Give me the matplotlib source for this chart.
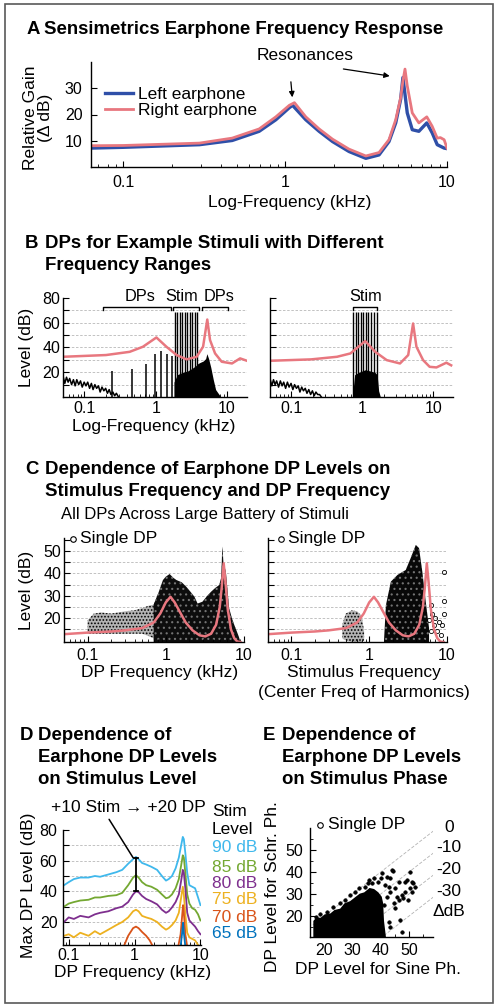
import numpy as np
import matplotlib
matplotlib.use("Agg")
import matplotlib.pyplot as plt
from matplotlib.patches import Rectangle
from matplotlib.lines import Line2D

plt.rcParams['font.family'] = ['Liberation Sans', 'DejaVu Sans']
plt.rcParams['font.size'] = 11.5
plt.rcParams['xtick.direction'] = 'in'
plt.rcParams['ytick.direction'] = 'in'
plt.rcParams['hatch.linewidth'] = 0.8

PINK = '#e8777f'
BLUE = '#2f4fa8'
TSIZE = 13.4   # bold panel titles
LSIZE = 12.5   # axis labels and notes

# ---------------- data ----------------
# A: earphone frequency response (kHz, relative dB)
fA_left = [0.063, 0.1, 0.295, 0.47, 0.69, 0.875, 1.06, 1.11, 1.34, 1.62, 1.96, 2.48, 3.15, 3.8, 4.38,
           4.82, 5.17, 5.34, 5.68, 6.1, 6.7, 7.5, 8.1, 8.7, 9.6, 10.0]
gain_left = [7.2, 7.5, 8.5, 10.1, 13.6, 18.0, 22.6, 23.5, 18.0, 13.6, 9.7, 5.9, 3.3, 4.6, 9.7,
             16.8, 25.8, 34.1, 20.6, 14.2, 13.6, 16.8, 13.0, 8.5, 7.2, 7.0]
fA_right = [0.063, 0.1, 0.295, 0.47, 0.69, 0.875, 1.06, 1.14, 1.34, 1.62, 1.96, 2.48, 3.15, 3.8, 4.38,
            4.82, 5.17, 5.34, 5.5, 5.68, 6.1, 6.7, 7.5, 8.1, 8.7, 9.1, 9.6, 10.0]
gain_right = [8.1, 8.2, 9.1, 11.0, 14.5, 19.1, 23.5, 24.5, 19.1, 14.5, 10.6, 6.8, 4.2, 5.5, 10.4,
              18.0, 26.4, 32.8, 37.3, 30.9, 20.6, 16.8, 19.1, 15.5, 11.0, 11.2, 10.4, 7.2]

# B left: earphone curve, noise floor, DPs and stimulus harmonics
fB1_pink = [0.05, 0.2, 0.43, 0.66, 1.02, 1.41, 1.96, 2.7, 3.74, 4.6, 5.27, 5.76, 6.78, 8.4, 11.7, 15.2, 18.9]
lev_B1_pink = [32.5, 33.9, 36.5, 40.6, 48.1, 40.6, 33.9, 30.4, 32.5, 40.6, 62.6, 46.0, 35.2, 28.5, 27.1, 31.2, 29.3]
fB1_noise = [0.05, 0.053, 0.056, 0.059, 0.062, 0.066, 0.07, 0.074, 0.078, 0.083, 0.088, 0.093, 0.099, 0.105,
             0.111, 0.118, 0.125, 0.132, 0.14, 0.148, 0.157, 0.166, 0.176, 0.187, 0.198, 0.21, 0.222, 0.235,
             0.25, 0.265, 0.28, 0.3]
lev_B1_noise = [17, 11, 16, 12, 15, 10, 14, 9, 14, 10, 13, 8, 12, 9, 12, 7, 11, 6, 10, 7, 9, 4, 8, 5, 7, 3, 6,
                2, 4, 1, 3, 0]
fB1_dp = [0.24, 0.47, 0.72, 0.97, 1.18, 1.43, 1.68]
lev_B1_dp = [21, 23, 27, 35, 37, 35, 33]
fB1_stim = [1.85, 2.0, 2.17, 2.35, 2.55, 2.75, 3.0, 3.25, 3.5, 3.78]
lev_B1_stim = [69, 69, 69, 69, 69, 69, 69, 69, 69, 69]
fB1_dense = [1.8, 2.0, 2.4, 2.8, 3.2, 3.6, 3.9, 4.2, 4.6, 5.0, 5.2, 5.5, 5.9, 6.4, 6.9, 7.5, 8.2]
lev_B1_dense = [12, 18, 20, 21, 23, 25, 27, 28, 29, 31, 35, 31, 24, 14, 6, 3, 0]

# B right
fB2_pink = [0.052, 0.19, 0.44, 0.68, 1.1, 1.52, 2.21, 3.4, 4.44, 5.2, 5.8, 7.2, 8.9, 11.1, 15.3, 17.9]
lev_B2_pink = [29.3, 30.4, 32.5, 35.2, 45.2, 36.5, 29.8, 27.1, 33.9, 59.4, 40.6, 29.8, 24.4, 23.9, 27.7, 25.6]
fB2_noise = [0.05, 0.053, 0.056, 0.059, 0.062, 0.066, 0.07, 0.074, 0.078, 0.083, 0.088, 0.093, 0.099, 0.105,
             0.111, 0.118, 0.125, 0.132, 0.14, 0.148, 0.157, 0.166, 0.176, 0.187, 0.198, 0.21, 0.222, 0.235,
             0.25, 0.265]
lev_B2_noise = [15, 9, 14, 10, 13, 8, 13, 9, 12, 7, 12, 8, 11, 6, 10, 7, 9, 4, 8, 5, 7, 3, 6, 2, 5, 1, 4, 2, 2, 0]
fB2_stim = [0.75, 0.81, 0.88, 0.95, 1.03, 1.12, 1.22, 1.33, 1.47, 1.62]
lev_B2_stim = [69, 69, 69, 69, 69, 69, 69, 69, 69, 69]
fB2_dense = [0.74, 0.78, 0.9, 1.1, 1.3, 1.5, 1.62, 1.7, 1.8]
lev_B2_dense = [5, 18, 20, 22, 21, 20, 18, 5, 0]

# C: earphone curve and outlines of the DP clouds
fC_pink = [0.05, 0.1, 0.2, 0.3, 0.5, 0.7, 0.85, 1.0, 1.15, 1.3, 1.5, 1.8, 2.2, 2.7, 3.2, 3.8, 4.4, 4.9, 5.2,
           5.5, 5.8, 6.2, 6.8, 7.5, 8.2, 9.0]
lev_C_pink = [12.8, 13.5, 14.0, 14.5, 15.5, 18.0, 22.0, 27.0, 29.5, 27.0, 23.0, 18.0, 14.5, 12.3, 11.8, 13.0,
              17.0, 25.0, 34.0, 44.5, 36.0, 24.0, 15.0, 11.0, 9.5, 9.3]
fC1_sparse = [0.1, 0.12, 0.15, 0.2, 0.3, 0.4, 0.5, 0.6, 0.7, 0.8]
top_C1_sparse = [19, 22, 22.5, 22, 23, 23.5, 24.5, 25.5, 26, 31]
bot_C1_sparse = [13, 13, 13, 13, 13, 13, 13, 12, 11, 9.3]
fC1_dense = [0.7, 0.8, 0.92, 1.0, 1.12, 1.25, 1.37, 1.6, 1.83, 2.1, 2.33, 2.55, 2.94, 3.4, 3.8, 4.3, 4.83,
             5.1, 5.2, 5.27, 5.35, 5.45, 5.87, 6.45, 7.0, 7.5, 8.1, 8.6, 9.0]
top_C1_dense = [26, 31, 37, 38.5, 39.7, 38, 37, 36, 34, 31.5, 29.5, 26.5, 27.3, 30, 31.8, 33.5, 34.8,
                38, 45, 52, 50, 45, 40.7, 24.5, 20, 17, 14, 11.6, 9.3]
fC2_sparse = [0.45, 0.5, 0.6, 0.7, 0.8, 0.86]
top_C2_sparse = [17, 22, 23.5, 23, 21, 14]
bot_C2_sparse = [11, 10, 9.3, 9.3, 9.3, 10]
fC2_dense = [1.55, 1.64, 1.9, 2.31, 2.95, 3.42, 3.97, 4.37, 4.82, 5.33, 5.88]
top_C2_dense = [10, 25.8, 36.3, 39.3, 41.5, 46.9, 52.7, 51.3, 40.7, 27.3, 15.5]
fC2_pts = [6.17, 6.48, 6.8, 7.5, 8.3, 8.7, 9.1, 9.1, 9.1, 7.9, 7.1, 5.9, 6.3]
lev_C2_pts = [25.8, 22.0, 17.0, 14.0, 12.4, 17.0, 22.0, 27.6, 40.7, 18.3, 19.9, 19.0, 14.0]

# D: max DP level per stimulus level
stim_levels = ['90 dB', '85 dB', '80 dB', '75 dB', '70 dB', '65 dB']
stim_colors = ['#3fb8ec', '#74a832', '#7e2f8e', '#edb120', '#d95319', '#0072bd']
fD = [0.085, 0.1, 0.12, 0.15, 0.2, 0.25, 0.3, 0.4, 0.53, 0.65, 0.8, 0.95, 1.05, 1.15, 1.3, 1.5, 1.8, 2.2,
      2.6, 3.0, 3.3, 3.7, 4.2, 4.7, 5.1, 5.4, 5.6, 5.9, 6.3, 6.8, 7.5, 8.3, 9.2, 10.0]
dp90 = [44, 46, 48, 49, 49, 50, 49.5, 51, 52.5, 54, 58, 61, 62.5, 61, 58.5, 57.5, 56, 54, 50, 47, 48, 50,
        55, 62, 70, 75.5, 74, 65, 52, 44, 43, 42, 36, 31]
dp85 = [30, 32, 33, 34, 34.5, 36, 36, 37, 37.5, 39, 44, 49, 50.5, 49, 46, 44, 43, 41, 38, 35.5, 36, 38,
        42, 48, 57, 63.5, 62, 52, 38, 32, 29, 28, 25, 21]
dp80 = [20, 23, 22, 24, 23, 25, 26, 27, 29, 30, 33, 38, 40, 39.5, 37, 35, 33.5, 31.5, 28, 26, 27, 29.5,
        33, 38, 47, 54, 52, 42, 26, 21, 19, 17, 14, 12]
dp75 = [11, 12, 10, 13, 11, 14, 12, 15, 18, 20, 23, 27, 28, 27, 24, 23, 22, 20, 17, 15, 16, 18, 21, 26,
        36, 43, 38, 25, 13, 10, 9, 8, 5, 4]
fD70 = [0.7, 0.8, 0.95, 1.05, 1.15, 1.3, 1.5, 1.7, 1.9, 4.6, 5.0, 5.3, 5.45, 5.6, 5.9, 6.3]
dp70 = [5, 11, 16, 17, 16, 13.5, 11, 8, 4, 4, 12, 25, 31, 26, 12, 4]
fD65 = [5.0, 5.25, 5.45, 5.6, 5.9]
dp65 = [4, 12, 19.5, 13, 4]
bar_f = 1.05
bar_lo, bar_hi = 40.0, 62.0

# E: DP level for Schroeder vs sine phase (outline of dense cloud + sparse points)
xE_dense = [16, 17, 18.6, 20, 22, 23.5, 25.5, 27, 29, 30.5, 32.4, 34, 35.9, 37.5, 39, 40.2, 40.7, 41, 41.7]
yE_dense = [18, 19.5, 19.5, 21, 21.4, 23, 23.6, 26, 27, 28.5, 30.4, 31, 33, 32.5, 31, 29, 26, 18, 10.5]
xE_pts = [44.0, 44.3, 42.3, 43.4, 41.7, 42.9, 45.2, 46.3, 48.6, 49.2, 50.3, 50.9, 51.5, 52.1, 48.6, 47.5,
          48.0, 49.8, 46.3, 44.6, 45.2, 46.9, 47.5, 43.4, 42.9, 40.0, 38.9, 37.1, 36.0, 34.3, 32.5, 30.8,
          29.1, 27.4, 25.6, 23.3, 21.0, 18.7, 17.0, 40.6, 37.7, 35.4, 42.3, 41.1, 50.3, 50.9, 43.4, 45.8]
yE_pts = [40.9, 40.6, 37.9, 37.1, 34.1, 33.3, 32.6, 35.6, 35.6, 36.4, 40.1, 35.6, 34.8, 33.3, 31.1, 29.5,
          28.0, 27.3, 27.3, 25.8, 23.5, 18.2, 12.9, 15.2, 17.4, 37.1, 35.6, 34.8, 36.4, 33.3, 32.6, 31.1,
          29.5, 27.3, 25.8, 24.0, 22.0, 20.9, 19.7, 39.4, 37.1, 34.8, 28.8, 25.0, 32.6, 31.1, 31.1, 28.8]
diag_offsets = [0, 10, 20, 30]
diag_labels = ['0', '-10', '-20', '-30']

# ---------------- figure ----------------
W, H = 498, 1008
fig = plt.figure(figsize=(W / 100, H / 100), dpi=100)


def ax_at(x0, y0, x1, y1):
    return fig.add_axes([x0 / W, 1 - y1 / H, (x1 - x0) / W, (y1 - y0) / H])


def txt(x, y, s, **kw):
    kw.setdefault('va', 'center')
    kw.setdefault('fontsize', LSIZE)
    return fig.text(x / W, 1 - y / H, s, **kw)


def title(x_letter, x_text, ys, letter, lines):
    txt(x_letter, ys[0], letter, fontsize=TSIZE, fontweight='bold')
    for y, s in zip(ys, lines):
        txt(x_text, y, s, fontsize=TSIZE, fontweight='bold')


def single_dp(x, y):
    fig.add_artist(Line2D([x / W], [1 - y / H], marker='o', ms=4, mfc='none', mec='k', mew=0.8,
                          transform=fig.transFigure))
    txt(x + 7.5, y, 'Single DP')


def style(ax, xpad=5, ypad=4, size=11.5):
    for s in ['top', 'right']:
        ax.spines[s].set_visible(False)
    for s in ['left', 'bottom']:
        ax.spines[s].set_linewidth(1.0)
    ax.tick_params(axis='x', which='major', length=4, width=0.8, pad=xpad, labelsize=size)
    ax.tick_params(axis='y', which='major', length=4, width=0.8, pad=ypad, labelsize=size)
    ax.tick_params(which='minor', length=2.5, width=0.6)
    ax.set_facecolor('none')


def logx(ax, lo, hi, ticks=(0.1, 1, 10)):
    ax.set_xscale('log')
    ax.set_xlim(lo, hi)
    ax.set_xticks(list(ticks))
    ax.set_xticklabels([('%g' % t) for t in ticks])


def hgrid(ax, levels):
    for lv in levels:
        ax.axhline(lv, color='0.72', lw=0.6, ls=(0, (3, 2)), zorder=0)


# outer frame
fig.patches.append(Rectangle((5 / W, 1 - 1003 / H), 488 / W, 999 / H, transform=fig.transFigure,
                             fill=False, ec='0.35', lw=1.2))

# ---------- Panel A ----------
title(27, 44, [30], 'A', ['Sensimetrics Earphone Frequency Response'])
axA = ax_at(91, 62, 447, 167)
style(axA, xpad=6, ypad=6)
logx(axA, 0.063, 10)
axA.set_ylim(0, 40)
axA.set_yticks([10, 20, 30])
axA.plot(fA_left, gain_left, color=BLUE, lw=2.4, label='Left earphone')
axA.plot(fA_right, gain_right, color=PINK, lw=2.0, label='Right earphone')
axA.legend(loc='upper left', bbox_to_anchor=(0.02, 0.83), frameon=False, fontsize=LSIZE,
           handlelength=1.6, handletextpad=0.3, labelspacing=0.05, borderaxespad=0)
axA.annotate('', xy=(1.11, 25.5), xytext=(1.08, 33.5),
             arrowprops=dict(arrowstyle='-|>', color='k', lw=0.9, mutation_scale=8), annotation_clip=False)
axA.annotate('', xy=(4.6, 34.5), xytext=(2.2, 37.5),
             arrowprops=dict(arrowstyle='-|>', color='k', lw=0.9, mutation_scale=8), annotation_clip=False)
txt(305, 56, 'Resonances', ha='center')
txt(38, 118, 'Relative Gain\n(\u0394 dB)', rotation=90, ha='center', linespacing=1.0,
    multialignment='center')
txt(290, 203, 'Log-Frequency (kHz)', ha='center')

# ---------- Panel B ----------
title(25, 45, [243, 265], 'B', ['DPs for Example Stimuli with Different', 'Frequency Ranges'])

axB1 = ax_at(63, 298, 247, 397)
axB2 = ax_at(270, 298, 453, 397)
for ax in (axB1, axB2):
    style(ax, xpad=3, ypad=2)
    logx(ax, 0.05, 19)
    ax.set_ylim(0, 80)
    ax.set_yticks([10, 20, 30, 40, 50, 60, 70, 80])
    hgrid(ax, [10, 20, 30, 40, 50, 60, 70])
axB1.set_yticklabels(['', '20', '', '40', '', '60', '', '80'])
axB2.set_yticklabels([])

axB1.plot(fB1_noise, lev_B1_noise, color='k', lw=1.1)
axB1.vlines(fB1_dp, 0, lev_B1_dp, color='k', lw=1.1)
axB1.fill_between(fB1_dense, 0, lev_B1_dense, color='k', lw=0)
axB1.vlines(fB1_stim, 0, lev_B1_stim, color='k', lw=1.0)
axB1.plot(fB1_pink, lev_B1_pink, color=PINK, lw=1.8)

axB2.plot(fB2_noise, lev_B2_noise, color='k', lw=1.1)
axB2.fill_between(fB2_dense, 0, lev_B2_dense, color='k', lw=0)
axB2.vlines(fB2_stim, 0, lev_B2_stim, color='k', lw=1.0)
axB2.plot(fB2_pink, lev_B2_pink, color=PINK, lw=1.8)


def bracket(ax, f0, f1, label, f_lab, y=72.5, drop=2.5):
    ax.plot([f0, f0, f1, f1], [y - drop, y, y, y - drop], color='k', lw=1.0, clip_on=False)
    ax.text(f_lab, y + 8.5, label, ha='center', va='center', fontsize=11.8, clip_on=False)


bracket(axB1, 0.18, 1.63, 'DPs', 0.61)
bracket(axB1, 1.74, 4.0, 'Stim', 2.3)
bracket(axB1, 4.4, 10.3, 'DPs', 7.6)
bracket(axB2, 0.75, 1.62, 'Stim', 1.1)
txt(27, 347, 'Level (dB)', rotation=90, ha='center')
txt(154, 427, 'Log-Frequency (kHz)', ha='center')

# ---------- Panel C ----------
title(25, 45, [469, 491], 'C', ['Dependence of Earphone DP Levels on', 'Stimulus Frequency and DP Frequency'])
txt(61, 515, 'All DPs Across Large Battery of Stimuli', fontsize=12)

axC1 = ax_at(64, 538, 244, 642)
axC2 = ax_at(268, 538, 447, 642)
for ax in (axC1, axC2):
    style(ax, xpad=4, ypad=2)
    logx(ax, 0.05, 10)
    ax.set_ylim(9.3, 55.8)
    ax.set_yticks([15, 20, 25, 30, 35, 40, 45, 50, 55])
    hgrid(ax, [15, 20, 25, 30, 35, 40, 45, 50])
axC1.set_yticklabels(['', '20', '', '30', '', '40', '', '50', ''])
axC2.set_yticklabels([])

axC1.fill_between(fC1_sparse, bot_C1_sparse, top_C1_sparse, facecolor='0.7', edgecolor='k',
                  hatch='.....', lw=0)
axC1.fill_between(fC1_dense, 9.3, top_C1_dense, facecolor='0.05', edgecolor='0.45', hatch='...', lw=0)
axC1.plot(fC_pink, lev_C_pink, color=PINK, lw=1.8)

axC2.fill_between(fC2_sparse, bot_C2_sparse, top_C2_sparse, facecolor='0.7', edgecolor='k',
                  hatch='.....', lw=0)
axC2.fill_between(fC2_dense, 9.3, top_C2_dense, facecolor='0.03', edgecolor='0.45', hatch='...', lw=0)
axC2.plot(fC2_pts, lev_C2_pts, ls='none', marker='o', ms=3, mfc='none', mec='k', mew=0.6)
axC2.plot(fC_pink, lev_C_pink, color=PINK, lw=1.8)

single_dp(72.7, 539)
single_dp(280.7, 539)
txt(27, 590, 'Level (dB)', rotation=90, ha='center')
txt(160, 673, 'DP Frequency (kHz)', ha='center')
txt(364, 673, 'Stimulus Frequency', ha='center')
txt(364, 693, '(Center Freq of Harmonics)', ha='center')

# ---------- Panel D ----------
title(20, 38, [735, 757, 779], 'D', ['Dependence of', 'Earphone DP Levels', 'on Stimulus Level'])

axD = ax_at(63, 830, 201, 945)
style(axD, xpad=2, ypad=4)
logx(axD, 0.082, 10.2)
axD.set_ylim(5, 80)
axD.set_yticks([10, 20, 30, 40, 50, 60, 70, 80])
axD.set_yticklabels(['', '20', '', '40', '', '60', '', '80'])
hgrid(axD, [10, 20, 30, 40, 50, 60, 70])
for vals, c in zip([dp90, dp85, dp80, dp75], stim_colors[:4]):
    axD.plot(fD, vals, color=c, lw=1.3)
axD.plot(fD70, dp70, color=stim_colors[4], lw=1.3)
axD.plot(fD65, dp65, color=stim_colors[5], lw=1.3)
axD.plot([bar_f, bar_f], [bar_lo, bar_hi], color='k', lw=1.3)
for yv in (bar_lo, bar_hi):
    axD.plot([bar_f * 0.93, bar_f * 1.07], [yv, yv], color='k', lw=1.3)
axD.annotate('', xy=(1.0, 60.4), xytext=(0.39, 88.5),
             arrowprops=dict(arrowstyle='-', color='k', lw=1.1), annotation_clip=False)
txt(128, 807, '+10 Stim \u2192 +20 DP', ha='center')
txt(212, 812, 'Stim')
txt(212, 830, 'Level')
for i, (lab, c) in enumerate(zip(stim_levels, stim_colors)):
    txt(212, [848, 867, 884, 900, 917, 933][i], lab, color=c)
txt(28, 885, 'Max DP Level (dB)', rotation=90, ha='center')
txt(133, 972, 'DP Frequency (kHz)', ha='center')

# ---------- Panel E ----------
title(263, 282, [735, 757, 779], 'E', ['Dependence of', 'Earphone DP Levels', 'on Stimulus Phase'])

axE = ax_at(310, 828, 433, 937)
style(axE, xpad=4, ypad=5)
axE.set_xlim(16, 58.5)
axE.set_ylim(10.5, 60)
axE.set_xticks([20, 30, 40, 50])
axE.set_yticks([20, 30, 40, 50])
axE.set_xticks([15, 25, 35, 45, 55], minor=True)
axE.set_yticks([15, 25, 35, 45, 55], minor=True)
xx = np.array([16, 60])
for d in diag_offsets:
    axE.plot(xx, xx - d, color='0.7', lw=0.6, ls=(0, (4, 2)), zorder=0)
axE.fill_between(xE_dense, 10.5, yE_dense, color='k', lw=0)
axE.plot(xE_pts, yE_pts, ls='none', marker='o', ms=2.5, mfc='k', mec='k', mew=0.5)
single_dp(320, 825)
for lab, yv in zip(diag_labels + ['\u0394dB'], [827, 848, 870, 892, 912]):
    txt(449, yv, lab, ha='center')
txt(272, 887, 'DP Level for Schr. Ph.', rotation=90, ha='center')
txt(378, 970, 'DP Level for Sine Ph.', ha='center')

fig.savefig('out.png', dpi=100)
